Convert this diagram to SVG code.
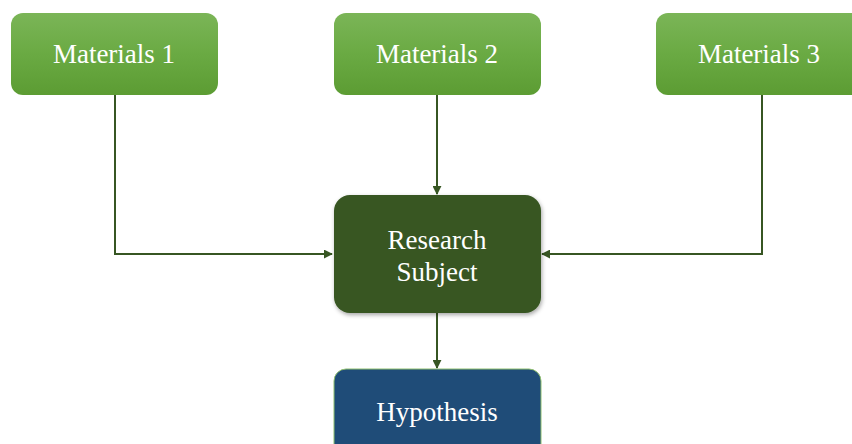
<svg xmlns="http://www.w3.org/2000/svg" width="852" height="444" viewBox="0 0 852 444">
<defs>
<linearGradient id="g" x1="0" y1="0" x2="0" y2="1">
<stop offset="0" stop-color="#7bb557"/>
<stop offset="0.5" stop-color="#6aaa43"/>
<stop offset="1" stop-color="#5c9c33"/>
</linearGradient>
<filter id="sh" x="-10%" y="-10%" width="125%" height="130%">
<feDropShadow dx="1" dy="2" stdDeviation="2" flood-color="#000" flood-opacity="0.35"/>
</filter>
<marker id="ah" viewBox="0 0 10 10" refX="9" refY="5" markerWidth="4.5" markerHeight="4.5" orient="auto" markerUnits="strokeWidth">
<path d="M0,0 L10,5 L0,10 z" fill="#375623"/>
</marker>
</defs>
<style>
.m{fill:url(#g)}
.t{font-family:"Liberation Serif","Times New Roman",serif;font-size:27px;fill:#fff;text-anchor:middle}
.c{fill:none;stroke:#375623;stroke-width:2;marker-end:url(#ah)}
</style>
<rect width="852" height="444" fill="#fff"/>
<g id="connectors">
<path class="c" d="M115,95 V254 H332"/>
<path class="c" d="M437,95 V194"/>
<path class="c" d="M762,95 V254 H542"/>
<path class="c" d="M437,313 V368"/>
</g>
<g id="materials1">
<rect class="m" x="11" y="13" width="207" height="82" rx="12"/>
<text class="t" x="114" y="63">Materials 1</text>
</g>
<g id="materials2">
<rect class="m" x="334" y="13" width="207" height="82" rx="12"/>
<text class="t" x="437" y="63">Materials 2</text>
</g>
<g id="materials3">
<rect class="m" x="656" y="13" width="207" height="82" rx="12"/>
<text class="t" x="759" y="63">Materials 3</text>
</g>
<g id="research">
<rect x="334" y="195" width="207" height="118" rx="16" fill="#375623" filter="url(#sh)"/>
<text class="t" x="437" y="249">Research</text>
<text class="t" x="437" y="281">Subject</text>
</g>
<g id="hypothesis">
<rect x="334" y="369" width="207" height="90" rx="12" fill="#1f4c78" stroke="#8fbf6f" stroke-width="1"/>
<text class="t" x="437" y="421">Hypothesis</text>
</g>
</svg>
